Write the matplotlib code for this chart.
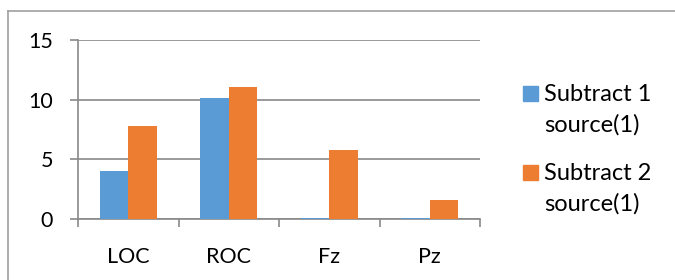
import matplotlib.pyplot as plt
from matplotlib.lines import Line2D
import numpy as np

categories = ["LOC", "ROC", "Fz", "Pz"]
subtract1 = [4.05, 10.15, 0.12, 0.12]
subtract2 = [7.8, 11.05, 5.75, 1.58]
series_names = [("Subtract 1", "source(1)"), ("Subtract 2", "source(1)")]
colors = ['#5B9BD5', '#ED7D31']
yticks = [0, 5, 10, 15]

plt.rcParams['font.family'] = ['Lato', 'DejaVu Sans']

grid_c = '#898989'
W, H = 675, 280
fig = plt.figure(figsize=(6.75, 2.8), dpi=100)
fig.patch.set_edgecolor('none')
fig.patch.set_linewidth(0)
ax = fig.add_axes([78 / W, 61 / H, 402 / W, 179 / H])

x = np.arange(len(categories))
w = 0.285
ax.bar(x - w / 2, subtract1, w, color=colors[0], zorder=3)
ax.bar(x + w / 2, subtract2, w, color=colors[1], zorder=3)

ax.set_xlim(-0.5, len(categories) - 0.5)
ax.set_ylim(0, 15)
ax.set_yticks(yticks)
ax.yaxis.grid(True, color=grid_c, lw=1.2, zorder=0)
for s in ['top', 'right']:
    ax.spines[s].set_visible(False)
for s in ['left', 'bottom']:
    ax.spines[s].set_color(grid_c)
    ax.spines[s].set_linewidth(1.2)
    ax.spines[s].set_zorder(2.5)

ax.tick_params(axis='y', length=6, width=1.2, color=grid_c, pad=12, labelsize=15.5)
ax.set_xticks(np.arange(-0.5, len(categories)))
ax.set_xticklabels([])
ax.tick_params(axis='x', which='major', length=6, width=1.2, color=grid_c)
ax.set_xticks(x, minor=True)
ax.set_xticklabels(categories, minor=True)
ax.tick_params(axis='x', which='minor', length=0, pad=20, labelsize=15.5)

# legend drawn by hand: square next to the first line of a two-line label
for i, (l1, l2) in enumerate(series_names):
    top = 86 + i * 79
    fig.patches.append(plt.Rectangle((523 / W, 1 - (top + 15) / H), 15 / W, 15 / H,
                                     transform=fig.transFigure, color=colors[i]))
    fig.text(544 / W, 1 - (top + 15) / H, l1, fontsize=17, va='baseline')
    fig.text(544 / W, 1 - (top + 46) / H, l2, fontsize=17, va='baseline')

# outer frame, only its left and top edges are inside the picture
fig.add_artist(Line2D([8 / W, 8 / W], [0, 1 - 11 / H], transform=fig.transFigure,
                      color='#a0a0a0', lw=1.2))
fig.add_artist(Line2D([8 / W, 1], [1 - 11 / H, 1 - 11 / H], transform=fig.transFigure,
                      color='#a0a0a0', lw=1.2))

fig.savefig('out.png', dpi=100)
